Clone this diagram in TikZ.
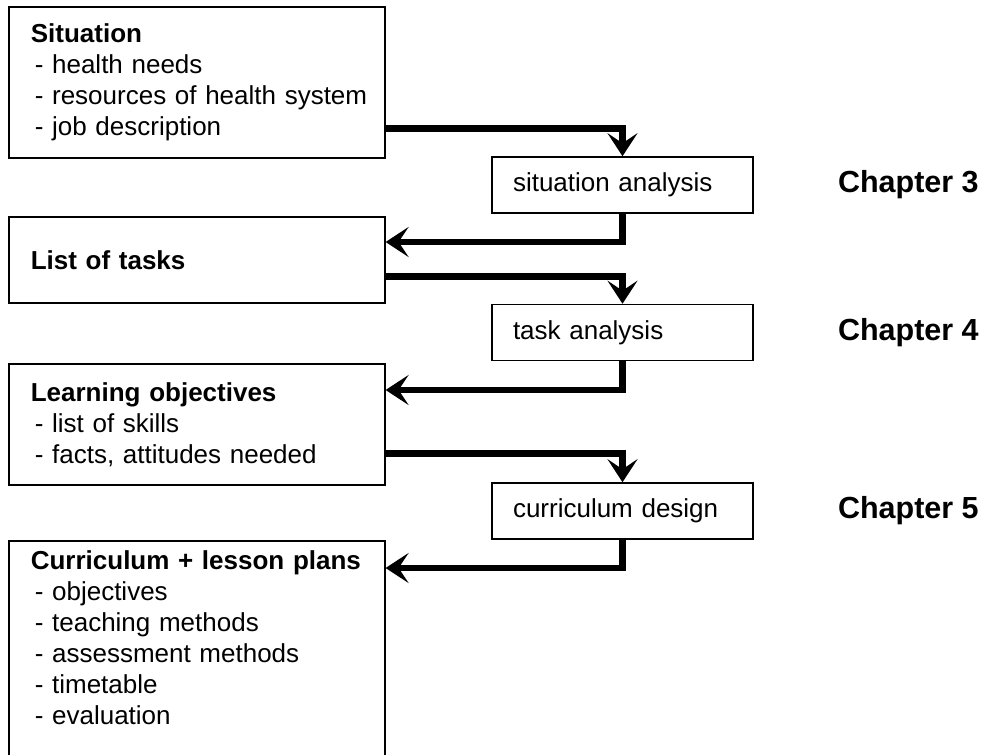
\documentclass[tikz,border=0pt]{standalone}
\usepackage{fontspec}
\setmainfont{Liberation Sans}
\usetikzlibrary{arrows.meta,positioning}

\tikzset{
  leftbox/.style={draw, line width=1.6pt, anchor=north west, align=left,
    text width=346pt, inner xsep=15pt, font=\fontsize{26}{31}\selectfont},
  stepbox/.style={draw, line width=1.6pt, align=left, text width=219pt,
    inner xsep=21pt, minimum height=56pt, font=\fontsize{26}{31}\selectfont},
  chap/.style={inner sep=0pt, font=\fontsize{30.5}{36}\selectfont\bfseries},
  flow/.style={line width=6.5pt, -{Stealth[length=23pt,width=30pt,inset=10pt]}}
}
\newcommand{\boxhead}[1]{\hspace*{7pt}\textbf{#1}}
\newcommand{\bulletitem}{\hspace*{11pt}- }

\begin{document}
\begin{tikzpicture}[x=1pt,y=-1pt]
    \useasboundingbox (0,0) rectangle (989,755);
    \clip (0,0) rectangle (989,755);
    % Left boxes
    \node [leftbox, minimum height=151pt] (sit) at (8,6)
        {\boxhead{Situation}\\ \bulletitem health needs\\ \bulletitem resources of health system\\ \bulletitem job description};
    \node [leftbox, minimum height=86pt] (tasks) at (8,216) {\boxhead{List of tasks}};
    \node [leftbox, minimum height=121pt] (obj) at (8,363)
        {\boxhead{Learning objectives}\\ \bulletitem list of skills\\ \bulletitem facts, attitudes needed};
    \node [leftbox, inner ysep=10pt] (curr) at (8,540)
        {\boxhead{Curriculum + lesson plans}\\ \bulletitem objectives\\ \bulletitem teaching methods\\
         \bulletitem assessment methods\\ \bulletitem timetable\\ \bulletitem evaluation\rule[-60pt]{0pt}{1pt}};
    % Steps
    \node [stepbox] (sa) at (622.5,185) {situation analysis};
    \node [stepbox] (ta) at (622.5,332.5) {task analysis};
    \node [stepbox] (cd) at (622.5,511) {curriculum design};
    % Chapters
    \node [chap, right=84pt of sa] (ch3) {Chapter 3};
    \node [chap, right=84pt of ta] (ch4) {Chapter 4};
    \node [chap, right=84pt of cd] (ch5) {Chapter 5};
    % Arrows
    \draw [flow] ([yshift=30pt]sit.south east) -| (sa.north);
    \draw [flow] (sa.south) |- ([yshift=-26pt]tasks.north east);
    \draw [flow] ([yshift=27pt]tasks.south east) -| (ta.north);
    \draw [flow] (ta.south) |- ([yshift=-27pt]obj.north east);
    \draw [flow] ([yshift=32pt]obj.south east) -| (cd.north);
    \draw [flow] (cd.south) |- ([yshift=-28pt]curr.north east);
\end{tikzpicture}
\end{document}
